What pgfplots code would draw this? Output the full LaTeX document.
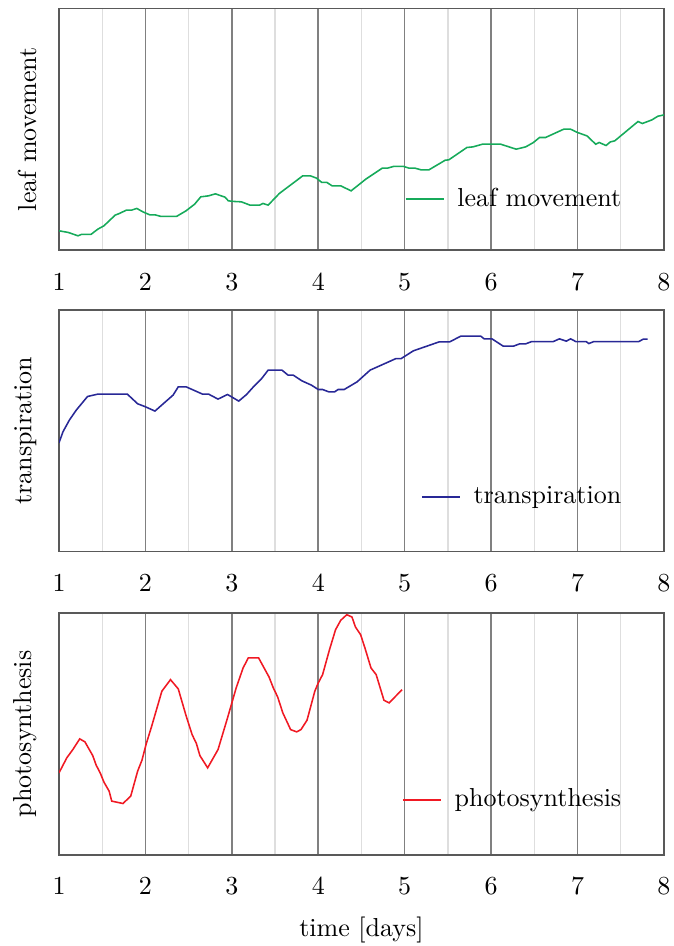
\documentclass[border=0pt]{standalone}
\usepackage{pgfplots}
\pgfplotsset{compat=1.18}
\definecolor{lgreen}{RGB}{22,170,90}
\definecolor{lblue}{RGB}{40,40,150}
\definecolor{lred}{RGB}{240,25,35}
\pgfplotsset{
  panel/.style={
    scale only axis, width=232.7pt, height=93pt,
    xmin=1, xmax=8, ymin=0, ymax=242,
    xtick={1,...,8}, minor xtick={1.5,2.5,...,7.5},
    ytick=\empty,
    xmajorgrids, xminorgrids,
    major grid style={black!50, line width=0.6pt},
    minor grid style={black!13, line width=0.55pt},
    major tick length=0pt, minor tick length=0pt,
    axis line style={black!65, line width=0.6pt},
    xticklabel style={yshift=-5.5pt},
    ylabel style={at={(axis description cs:-0.022,0.5)}, anchor=south, rotate=0},
    legend style={draw=none, fill=none, inner sep=0pt, outer sep=0pt,
      at={(axis description cs:0.938,0.144)}, anchor=south east},
    legend image code/.code={\draw[#1, line width=0.6pt] (0pt,0pt) -- (14.6pt,0pt); \path (17.6pt,0pt);},
  }
}
\begin{document}
\begin{tikzpicture}
\useasboundingbox (-22.7pt,3.2pt) rectangle (236.5pt,-360.7pt);
\begin{axis}[panel, at={(0pt,0pt)}, anchor=north west, ylabel={leaf movement}]
\addplot[lgreen, line width=0.6pt] coordinates {
(1.00,19.3)(1.105,17.7)(1.22,14.3)(1.26,15.7)(1.37,15.7)(1.45,21)(1.52,24.3)(1.65,35)(1.70,36.7)(1.78,40)(1.84,40)(1.90,41.7)(1.97,38.3)(2.05,35.3)(2.11,35.3)(2.18,33.7)(2.36,33.7)(2.47,39.3)(2.57,46)(2.64,53.3)(2.73,54.3)(2.81,56.3)(2.92,53)(2.96,49.3)(3.02,48.7)(3.11,48.3)(3.21,45)(3.32,45)(3.36,46.7)(3.42,45)(3.55,56.7)(3.82,74.3)(3.91,74.3)(3.98,72)(4.04,67.7)(4.10,67.7)(4.16,64.3)(4.26,64.3)(4.38,59.3)(4.55,71)(4.74,82)(4.80,82)(4.87,83.7)(4.99,83.7)(5.05,82)(5.12,82)(5.19,80.3)(5.28,80.3)(5.47,90)(5.51,90.3)(5.72,102.7)(5.79,103.3)(5.90,106)(6.11,106)(6.29,101)(6.40,103.3)(6.49,107.7)(6.56,112.7)(6.63,112.7)(6.84,121)(6.92,121)(7.00,117.7)(7.11,114.3)(7.21,106)(7.25,107.7)(7.33,104.7)(7.38,108.3)(7.43,109.3)(7.70,128.7)(7.75,126.7)(7.86,130.3)(7.93,134)(8.00,135.3)
};
\addlegendentry{leaf movement}
\end{axis}
\begin{axis}[panel, at={(0pt,-116pt)}, anchor=north west, ylabel={transpiration},
  legend style={at={(axis description cs:0.938,0.16)}}]
\addplot[lblue, line width=0.6pt] coordinates {
(1.00,109)(1.046,120)(1.12,131.7)(1.20,141.7)(1.33,155.3)(1.45,157.7)(1.79,157.7)(1.91,148)(2.00,145)(2.11,140.7)(2.32,156.7)(2.38,165)(2.47,165)(2.66,157.7)(2.73,157.7)(2.84,152.7)(2.95,157.3)(3.08,150.7)(3.17,157.3)(3.25,165)(3.34,172.7)(3.42,181.7)(3.58,181.7)(3.65,176.7)(3.71,176.7)(3.81,171)(3.92,166.7)(4.00,162.3)(4.05,162.3)(4.12,160)(4.19,160)(4.23,162.3)(4.30,162.3)(4.45,170)(4.60,181.7)(4.90,193.3)(4.96,193.3)(5.10,201)(5.40,210)(5.52,210)(5.65,215.7)(5.88,215.7)(5.92,213)(6.01,213)(6.14,205.7)(6.26,205.7)(6.33,208)(6.40,208)(6.47,210.3)(6.72,210.3)(6.79,213)(6.87,210.7)(6.92,213)(6.98,210.3)(7.10,210.3)(7.13,208.3)(7.19,210.3)(7.71,210.3)(7.76,212.7)(7.81,212.7)
};
\addlegendentry{transpiration}
\end{axis}
\begin{axis}[panel, at={(0pt,-232.6pt)}, anchor=north west, ylabel={photosynthesis},
  legend style={at={(axis description cs:0.938,0.16)}},
  xlabel={time [days]}, xlabel style={at={(axis description cs:0.5,-0.338)}, anchor=base}]
\addplot[lred, line width=0.6pt] coordinates {
(1.00,82)(1.09,97)(1.16,105.3)(1.24,116)(1.30,113)(1.39,99.3)(1.43,89.7)(1.48,81.3)(1.52,72.7)(1.58,63.7)(1.61,53.7)(1.74,51.3)(1.83,58.7)(1.91,83.7)(1.96,94.7)(2.01,111.3)(2.07,128)(2.19,163.7)(2.29,175.3)(2.38,166)(2.47,139.3)(2.54,120.3)(2.59,111.3)(2.63,99.3)(2.72,87)(2.84,105.3)(2.95,137)(3.05,167)(3.13,187)(3.19,197)(3.31,197)(3.43,178)(3.48,167)(3.53,158)(3.59,142)(3.68,125.3)(3.75,123)(3.80,125.3)(3.87,134.7)(3.96,163.7)(4.00,172)(4.05,180.3)(4.13,205.3)(4.20,225.3)(4.26,234.7)(4.33,240.3)(4.39,238)(4.43,228)(4.49,220.3)(4.54,207)(4.61,187)(4.67,180.3)(4.76,154.7)(4.82,152)(4.97,165.3)
};
\addlegendentry{photosynthesis}
\end{axis}
\end{tikzpicture}
\end{document}
